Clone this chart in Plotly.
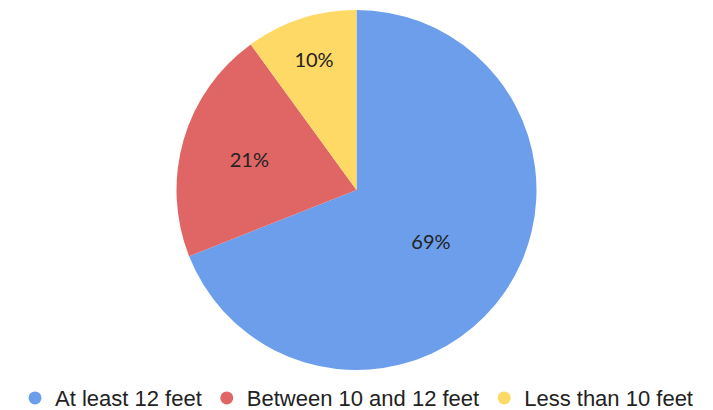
import plotly.graph_objects as go

labels = ["At least 12 feet", "Between 10 and 12 feet", "Less than 10 feet"]
values = [69, 21, 10]
colors = ["#6d9eeb", "#e06666", "#ffd966"]

fig = go.Figure()
fig.add_trace(go.Pie(
    labels=labels, values=values, sort=False, direction="clockwise", rotation=0,
    marker=dict(colors=colors, line=dict(width=0)),
    textinfo="percent", texttemplate="%{percent:.0%}", textposition="inside",
    insidetextorientation="horizontal",
    textfont=dict(family="Lato", size=20, color="#222222"),
    showlegend=False,
))
for lab, col in zip(labels, colors):
    fig.add_trace(go.Scatter(x=[None], y=[None], mode="markers", name=lab,
                             marker=dict(symbol="circle", size=13, color=col)))

fig.update_xaxes(visible=False)
fig.update_yaxes(visible=False)
fig.update_layout(
    width=713, height=410,
    margin=dict(l=0, r=0, t=10, b=40, autoexpand=False),
    paper_bgcolor="white", plot_bgcolor="white",
    legend=dict(orientation="h", x=0.5, xanchor="center",
                y=-0.078, yanchor="middle",
                font=dict(family="Liberation Sans", size=22, color="#222222"),
                itemwidth=30, tracegroupgap=0),
)
fig.write_html("out.html")
